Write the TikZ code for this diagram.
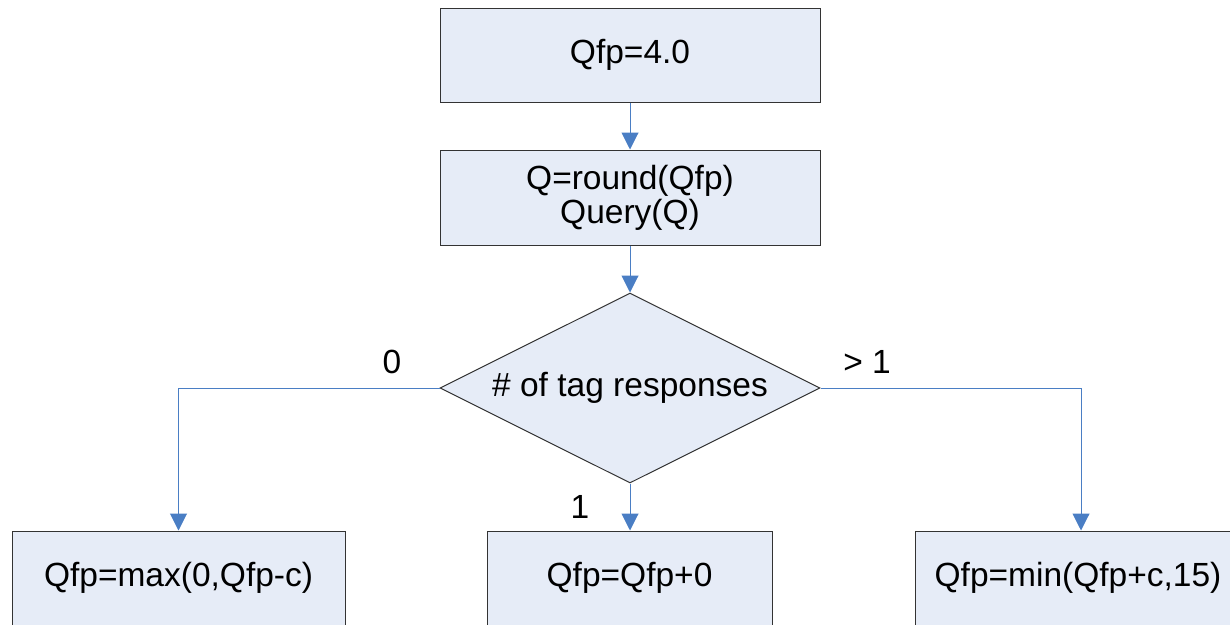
\documentclass[tikz,border=0pt]{standalone}
\usepackage{fontspec}
\setmainfont{Liberation Sans}
\usetikzlibrary{shapes.geometric,arrows.meta}
\definecolor{boxfill}{HTML}{E6ECF7}
\definecolor{flow}{HTML}{4A7EC4}
\tikzset{
  stepbox/.style={draw=black!80, fill=boxfill, line width=1pt, inner sep=0pt,
    minimum height=94pt, align=center, font=\fontsize{33.5}{34}\selectfont},
  decision/.style={draw=black!80, fill=boxfill, line width=1pt, diamond, aspect=2,
    inner sep=0pt, minimum width=380pt, minimum height=190pt,
    font=\fontsize{33.5}{34}\selectfont},
  flowline/.style={draw=flow, line width=1pt, -{Triangle[length=17pt,width=17pt]}},
  lbl/.style={font=\fontsize{33.5}{34}\selectfont, inner sep=0pt}
}
\begin{document}
\begin{tikzpicture}[x=1pt,y=-1pt]
\useasboundingbox (0,0) rectangle (1230,624);
\clip (0,0) rectangle (1230,624);
% process boxes
\node[stepbox, minimum width=380pt] (init) at (630,55) {Qfp=4.0};
\node[stepbox, minimum width=380pt, minimum height=95pt] (query) at (630,197.5) {Q=round(Qfp)\\Query(Q)};
\node[decision] (count) at (630,388) {\# of tag responses};
\node[stepbox, minimum width=333pt] (dec) at (178.5,578) {Qfp=max(0,Qfp-c)};
\node[stepbox, minimum width=285pt] (keep) at (629.5,578) {Qfp=Qfp+0};
\node[stepbox, minimum width=332pt] (inc) at (1081,578) {\hspace*{-6pt}Qfp=min(Qfp+c,15)};
% branch labels
\node[lbl] (l0) at (392,362) {0};
\node[lbl] (l1) at (580,507) {1};
\node[lbl] (lmore) at (867,362) {> 1};
% connectors
\draw[flowline] (init.south) -- (query.north);
\draw[flowline] (query.south) -- (count.north);
\draw[flowline] (count.west) -| (dec.north);
\draw[flowline] (count.south) -- (keep.north -| count.south);
\draw[flowline] (count.east) -| (inc.north);
\end{tikzpicture}
\end{document}
